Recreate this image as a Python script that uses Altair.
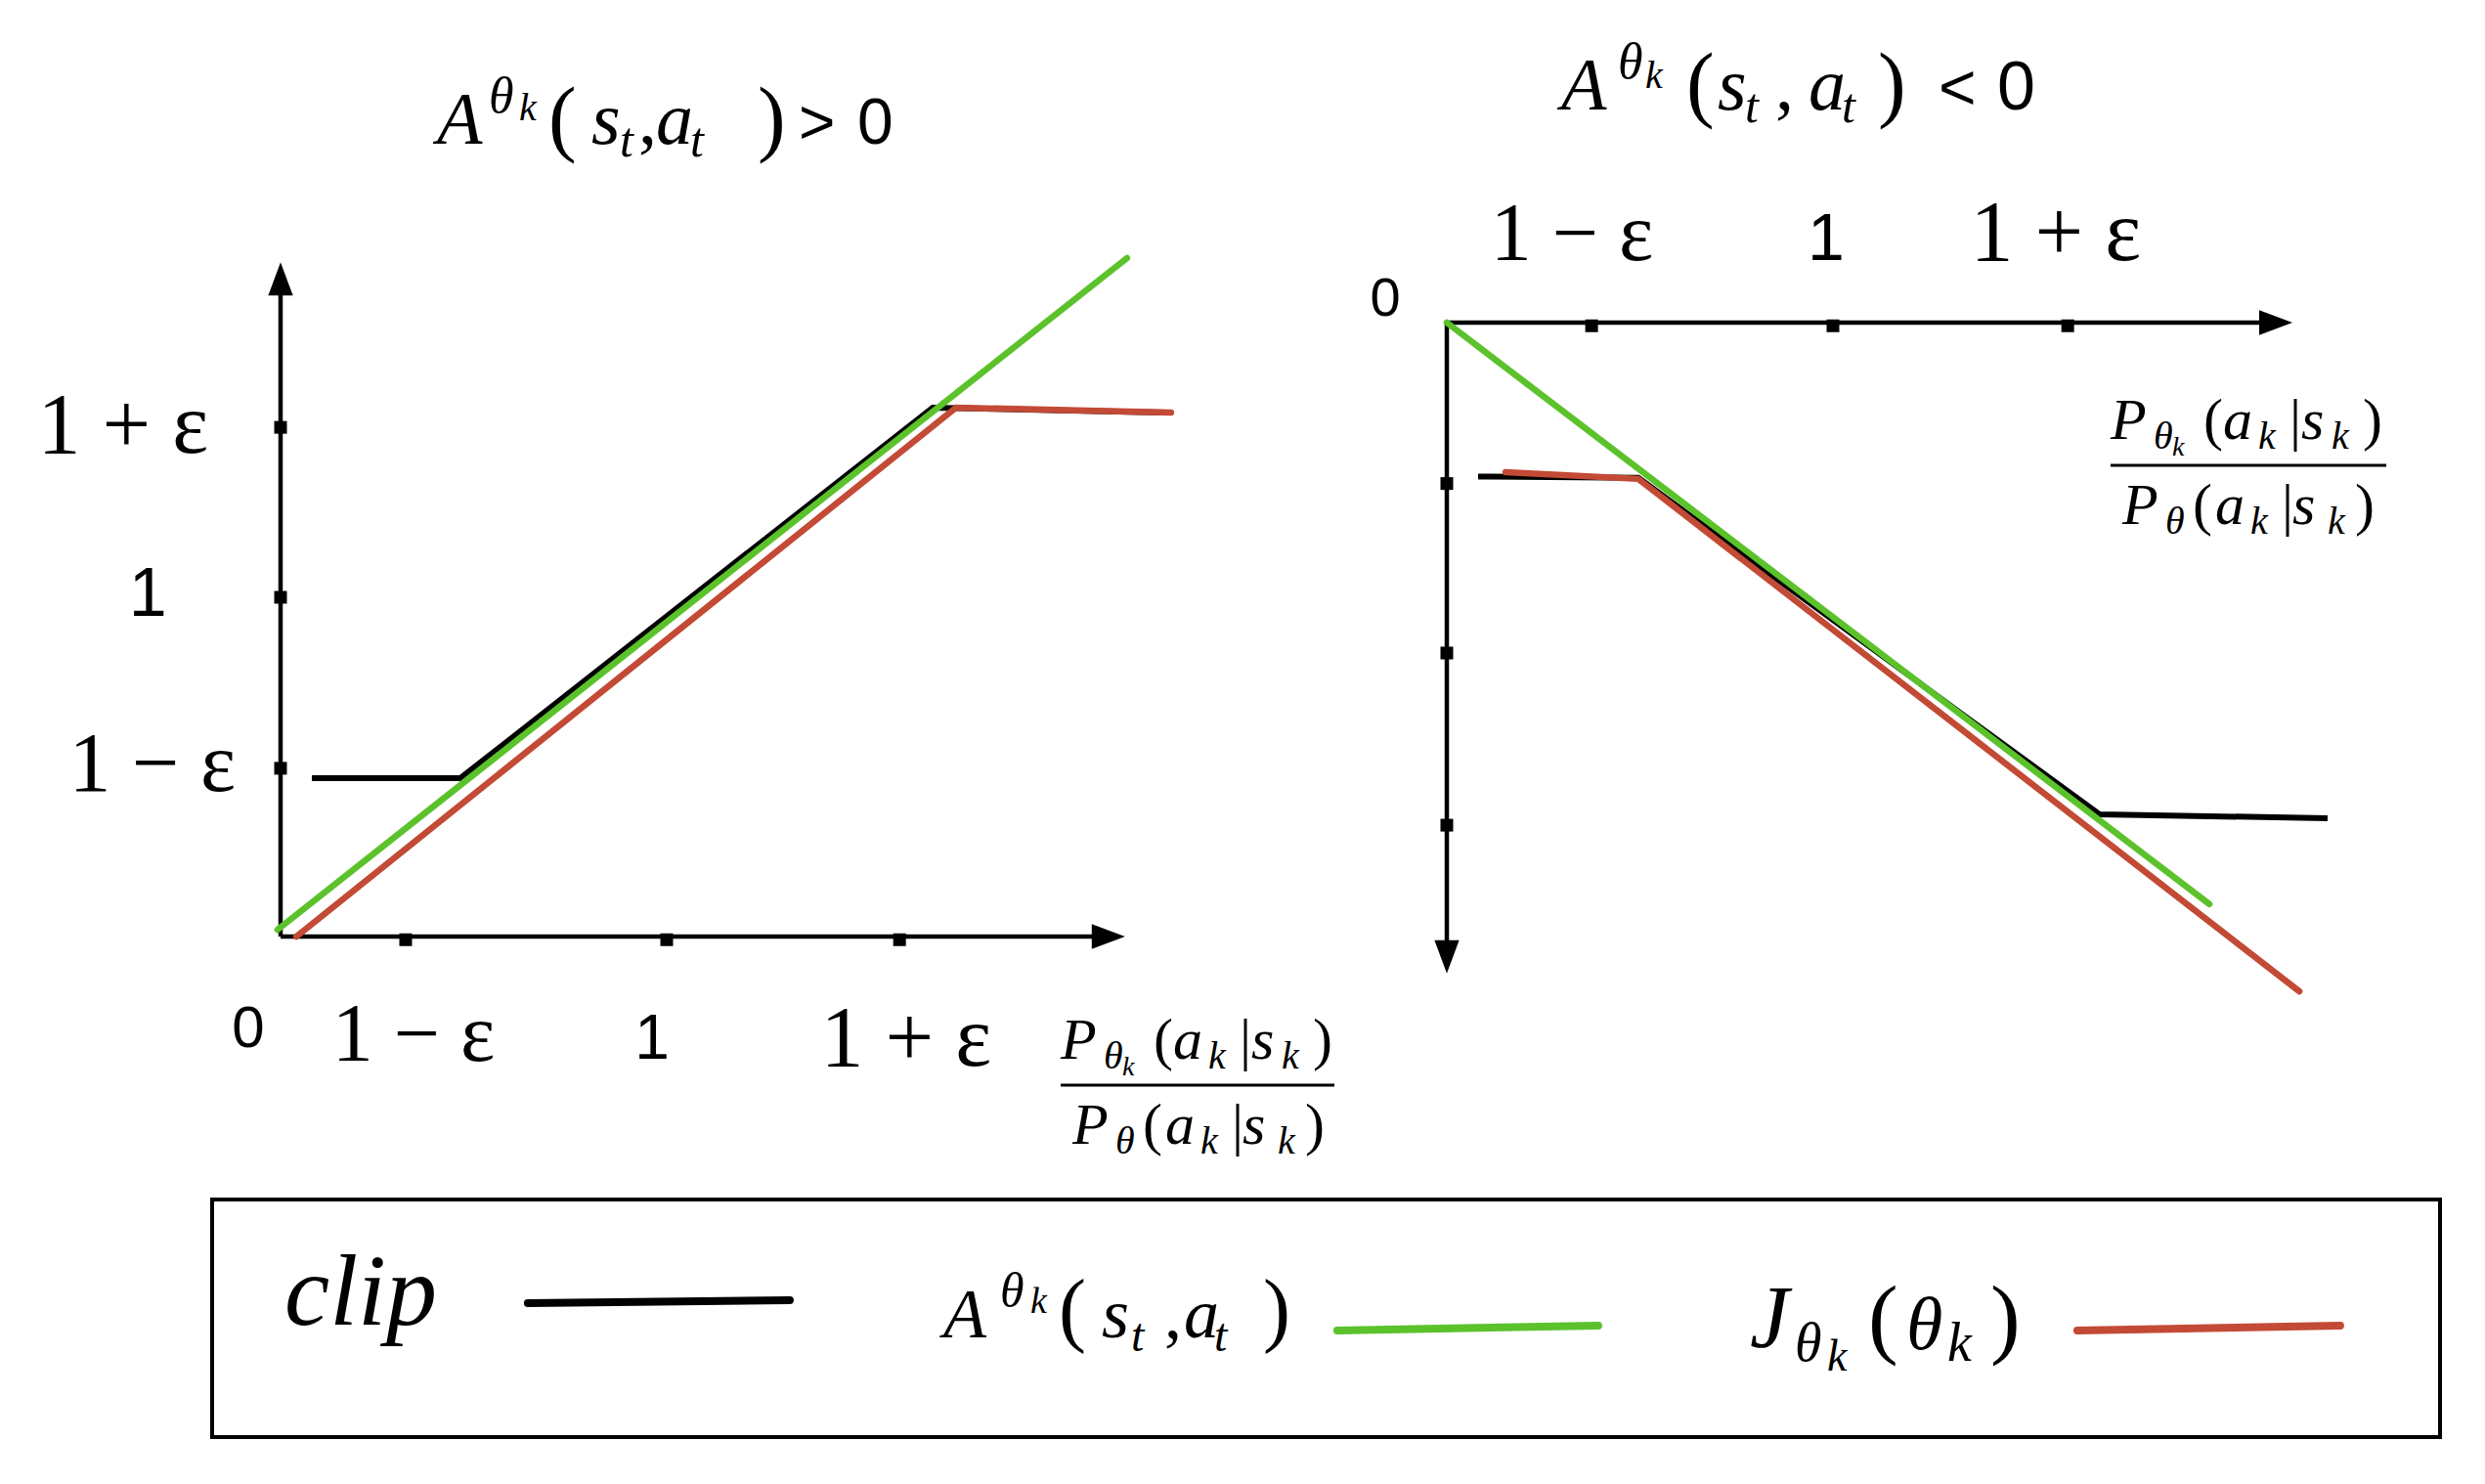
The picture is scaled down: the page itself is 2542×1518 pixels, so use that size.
import altair as alt
import pandas as pd

# ---------------------------------------------------------------
# Values (panel units: the "1" tick = 1)
# ---------------------------------------------------------------
BLACK, GREEN, RED = "#000000", "#5BC22B", "#C34A35"

# Left panel: A(s_t, a_t) > 0
L_XTICKS = [0.324, 1.000, 1.603]
L_YTICKS = [0.496, 1.000, 1.501]
L_XAXIS_END = 2.187
L_YAXIS_END = 1.988
L_CLIP_X = [0.081, 0.466, 1.689, 2.286]
L_CLIP_Y = [0.467, 0.467, 1.559, 1.545]
L_ADV_X = [-0.008, 2.192]
L_ADV_Y = [0.020, 2.000]
L_OBJ_X = [0.041, 1.749, 2.306]
L_OBJ_Y = [0.000, 1.559, 1.545]

# Right panel: A(s_t, a_t) < 0
R_XTICKS = [0.375, 1.000, 1.608]
R_YTICKS = [-0.487, -1.000, -1.521]
R_XAXIS_END = 2.190
R_YAXIS_END = -1.970
R_CLIP_X = [0.081, 0.496, 1.690, 2.281]
R_CLIP_Y = [-0.466, -0.470, -1.488, -1.500]
R_ADV_X = [0.000, 1.975]
R_ADV_Y = [0.000, -1.760]
R_OBJ_X = [0.152, 0.496, 2.208]
R_OBJ_Y = [-0.453, -0.473, -2.024]

TICK_TEXT = ["1 − ε", "1", "1 + ε"]
TICK_KIND = ["r", "s", "r"]
ZERO_TEXT = "0"
LEGEND_CLIP_TEXT = "clip"

# math expressions: (text, dx, dy, size, kind)
L_TITLE = [("A", 0, 0, 76, "i"), ("θ", 53, -32, 52, "i"), ("k", 84, -24, 40, "i"),
           ("(", 114, 2, 86, "r"), ("s", 158, 0, 76, "i"), ("t", 187, 13, 50, "i"),
           (",", 206, 0, 76, "r"), ("a", 224, 0, 76, "i"), ("t", 259, 13, 50, "i"),
           (")", 328, 2, 86, "r"), (">", 370, 0, 64, "s"), ("0", 430, 0, 66, "s")]
R_TITLE = [("A", 0, 0, 76, "i"), ("θ", 58, -32, 52, "i"), ("k", 86, -22, 40, "i"),
           ("(", 128, 2, 86, "r"), ("s", 160, 0, 76, "i"), ("t", 188, 13, 50, "i"),
           (",", 219, 0, 76, "r"), ("a", 253, 0, 76, "i"), ("t", 287, 13, 50, "i"),
           (")", 324, 2, 86, "r"), ("<", 386, 0, 66, "s"), ("0", 446, 0, 70, "s")]
FRACTION = [("P", 0, -27, 60, "i"), ("θ", 44, -17, 40, "i"), ("k", 63, -10, 28, "i"),
            ("(", 95, -27, 60, "r"), ("a", 115, -27, 60, "i"), ("k", 151, -17, 40, "i"),
            ("|", 183, -27, 60, "r"), ("s", 195, -27, 60, "i"), ("k", 226, -17, 40, "i"),
            (")", 258, -27, 60, "r"),
            ("P", 12, 60, 60, "i"), ("θ", 56, 70, 40, "i"), ("(", 84, 60, 60, "r"),
            ("a", 107, 60, 60, "i"), ("k", 143, 70, 40, "i"), ("|", 175, 60, 60, "r"),
            ("s", 186, 60, 60, "i"), ("k", 222, 70, 40, "i"), (")", 250, 60, 60, "r")]
G_ADV = [("A", 0, 0, 72, "i"), ("θ", 58, -31, 50, "i"), ("k", 89, -25, 38, "i"),
         ("(", 118, -1, 84, "r"), ("s", 162, 0, 72, "i"), ("t", 192, 14, 48, "i"),
         (",", 226, 0, 72, "r"), ("a", 246, 0, 72, "i"), ("t", 277, 14, 48, "i"),
         (")", 327, -1, 84, "r")]
G_OBJ = [("J", 0, 0, 90, "i"), ("θ", 46, 14, 56, "i"), ("k", 79, 24, 46, "i"),
         ("(", 121, 0, 92, "r"), ("θ", 160, 2, 76, "i"), ("k", 202, 14, 56, "i"),
         (")", 246, 0, 92, "r")]

# ---------------------------------------------------------------
# Layout
# ---------------------------------------------------------------
MARGIN = 8
W, H = 2520, 1490
SERIF = "Liberation Serif, Times New Roman, serif"
SANS = "Liberation Sans, Arial, sans-serif"
FONTS = {"i": (SERIF, "italic"), "r": (SERIF, "normal"), "s": (SANS, "normal")}


def frame(ox, oy, ux, uy):
    px0, py0 = ox - MARGIN, oy - MARGIN
    xs = alt.Scale(domain=[-px0 / ux, (W - px0) / ux], nice=False, zero=False)
    ys = alt.Scale(domain=[-(H - py0) / uy, py0 / uy], nice=False, zero=False)
    return xs, ys


L_UX, L_UY = 395, 347
R_UX, R_UY = 395, 338
LX, LY = frame(287, 958, L_UX, L_UY)
RX, RY = frame(1480, 330, R_UX, R_UY)
GX, GY = frame(217, 1470, 2279, 243)

ARROW_UP = "M0,0L-0.78,2.1L0.78,2.1Z"
ARROW_RIGHT = "M0,0L-2.1,-0.78L-2.1,0.78Z"
ARROW_DOWN = "M0,0L-0.78,-2.1L0.78,-2.1Z"
ARROW_SIZE = 1050
TICK_BELOW = "M-1,-0.5L1,-0.5L1,1.5L-1,1.5Z"
TICK_CENTER = "M-1,-1L1,-1L1,1L-1,1Z"
TICK_SIZE = 169


def exy(xs, ys):
    return dict(x=alt.X("x:Q", scale=xs, axis=None), y=alt.Y("y:Q", scale=ys, axis=None))


def line_layer(xv, yv, color, width, xs, ys, cap="round"):
    df = pd.DataFrame({"x": xv, "y": yv, "i": list(range(len(xv)))})
    return alt.Chart(df).mark_line(color=color, strokeWidth=width, strokeCap=cap,
                                   strokeJoin="miter").encode(**exy(xs, ys), order="i:Q")


def rule_layer(rows, xs, ys, width):
    df = pd.DataFrame(rows, columns=["x", "y", "x2", "y2"])
    return alt.Chart(df).mark_rule(color="black", strokeWidth=width).encode(
        **exy(xs, ys), x2="x2:Q", y2="y2:Q")


def point_layer(xv, yv, shape, size, xs, ys):
    df = pd.DataFrame({"x": xv, "y": yv})
    return alt.Chart(df).mark_point(shape=shape, size=size, filled=True, color="black",
                                    opacity=1, strokeWidth=0).encode(**exy(xs, ys))


def text_layer(x, y, text, size, kind, xs, ys, align="left", dx=0, dy=0):
    family, style = FONTS[kind]
    df = pd.DataFrame({"x": [x], "y": [y], "t": [text]})
    return alt.Chart(df).mark_text(align=align, baseline="alphabetic", dx=dx, dy=dy,
                                   fontSize=size, font=family, fontStyle=style,
                                   color="black").encode(**exy(xs, ys), text="t:N")


def expr_layers(anchor, pieces, xs, ys):
    return [text_layer(anchor[0], anchor[1], t, size, kind, xs, ys, dx=dx, dy=dy)
            for (t, dx, dy, size, kind) in pieces]


# ---------------- left panel ----------------
left_layers = [
    rule_layer([(0, 0, L_XAXIS_END - 20 / L_UX, 0), (0, 0, 0, L_YAXIS_END - 20 / L_UY)], LX, LY, 4.5),
    point_layer([L_XAXIS_END], [0], ARROW_RIGHT, ARROW_SIZE, LX, LY),
    point_layer([0], [L_YAXIS_END], ARROW_UP, ARROW_SIZE, LX, LY),
    point_layer(L_XTICKS, [0] * 3, TICK_BELOW, TICK_SIZE, LX, LY),
    point_layer([0] * 3, L_YTICKS, TICK_CENTER, TICK_SIZE, LX, LY),
    line_layer(L_CLIP_X, L_CLIP_Y, BLACK, 6, LX, LY, cap="butt"),
    line_layer(L_OBJ_X, L_OBJ_Y, RED, 6.5, LX, LY),
    line_layer(L_ADV_X, L_ADV_Y, GREEN, 6.5, LX, LY),
]
L_YLABEL_POS = [(-0.332, 0.4294), (-0.344, 0.9452), (-0.408, 1.4265)]
L_YLABEL_SIZE = [86, 70, 88]
L_XLABEL_POS = [(0.3443, -0.366), (0.962, -0.360), (1.620, -0.3804)]
L_XLABEL_SIZE = [84, 64, 88]
for t, k, p, s in zip(TICK_TEXT, TICK_KIND, L_YLABEL_POS, L_YLABEL_SIZE):
    left_layers.append(text_layer(p[0], p[1], t, s, k, LX, LY, align="center"))
for t, k, p, s in zip(TICK_TEXT, TICK_KIND, L_XLABEL_POS, L_XLABEL_SIZE):
    left_layers.append(text_layer(p[0], p[1], t, s, k, LX, LY, align="center"))
left_layers.append(text_layer(-0.0835, -0.3256, ZERO_TEXT, 60, "s", LX, LY, align="center"))
left_layers += expr_layers((0.405, 2.3372), L_TITLE, LX, LY)
L_FRAC = (2.0203, -0.438, 2.7291)
left_layers.append(rule_layer([(L_FRAC[0], L_FRAC[1], L_FRAC[2], L_FRAC[1])], LX, LY, 3))
left_layers += expr_layers((L_FRAC[0], L_FRAC[1]), FRACTION, LX, LY)
left = alt.layer(*left_layers)

# ---------------- right panel ----------------
right_layers = [
    rule_layer([(0, 0, R_XAXIS_END - 20 / R_UX, 0), (0, 0, 0, R_YAXIS_END + 20 / R_UY)], RX, RY, 4.5),
    point_layer([R_XAXIS_END], [0], ARROW_RIGHT, ARROW_SIZE, RX, RY),
    point_layer([0], [R_YAXIS_END], ARROW_DOWN, ARROW_SIZE, RX, RY),
    point_layer(R_XTICKS, [0] * 3, TICK_BELOW, TICK_SIZE, RX, RY),
    point_layer([0] * 3, R_YTICKS, TICK_CENTER, TICK_SIZE, RX, RY),
    line_layer(R_CLIP_X, R_CLIP_Y, BLACK, 6, RX, RY, cap="butt"),
    line_layer(R_OBJ_X, R_OBJ_Y, RED, 6.5, RX, RY),
    line_layer(R_ADV_X, R_ADV_Y, GREEN, 6.5, RX, RY),
]
R_XLABEL_POS = [(0.324, 0.189), (0.982, 0.189), (1.577, 0.189)]
R_XLABEL_SIZE = [84, 68, 88]
for t, k, p, s in zip(TICK_TEXT, TICK_KIND, R_XLABEL_POS, R_XLABEL_SIZE):
    right_layers.append(text_layer(p[0], p[1], t, s, k, RX, RY, align="center"))
right_layers.append(text_layer(-0.1595, 0.0207, ZERO_TEXT, 56, "s", RX, RY, align="center"))
right_layers += expr_layers((0.2962, 0.645), R_TITLE, RX, RY)
R_FRAC = (1.719, -0.432, 2.433)
right_layers.append(rule_layer([(R_FRAC[0], R_FRAC[1], R_FRAC[2], R_FRAC[1])], RX, RY, 3))
right_layers += expr_layers((R_FRAC[0], R_FRAC[1]), FRACTION, RX, RY)
right = alt.layer(*right_layers)

# ---------------- legend box ----------------
box = alt.Chart(pd.DataFrame({"x": [0.0], "y": [0.0], "x2": [1.0], "y2": [1.0]})).mark_rect(
    fillOpacity=0, stroke="black", strokeWidth=4).encode(**exy(GX, GY), x2="x2:Q", y2="y2:Q")
legend_layers = [
    box,
    text_layer(0.0325, 0.473, LEGEND_CLIP_TEXT, 104, "i", GX, GY),
    line_layer([0.1417, 0.2593], [0.5638, 0.5761], BLACK, 8, GX, GY),
    line_layer([0.5050, 0.6222], [0.4486, 0.4691], GREEN, 8, GX, GY),
    line_layer([0.8372, 0.9552], [0.4486, 0.4691], RED, 8, GX, GY),
]
legend_layers += expr_layers((0.3282, 0.4198), G_ADV, GX, GY)
legend_layers += expr_layers((0.6902, 0.3786), G_OBJ, GX, GY)
legend = alt.layer(*legend_layers)

chart = alt.layer(left, right, legend).resolve_scale(
    x="independent", y="independent"
).properties(
    width=W, height=H, padding=0, autosize=alt.AutoSizeParams(type="none")
).configure_view(strokeWidth=0)

chart.save("out.html", embed_options={"renderer": "svg", "actions": False})
